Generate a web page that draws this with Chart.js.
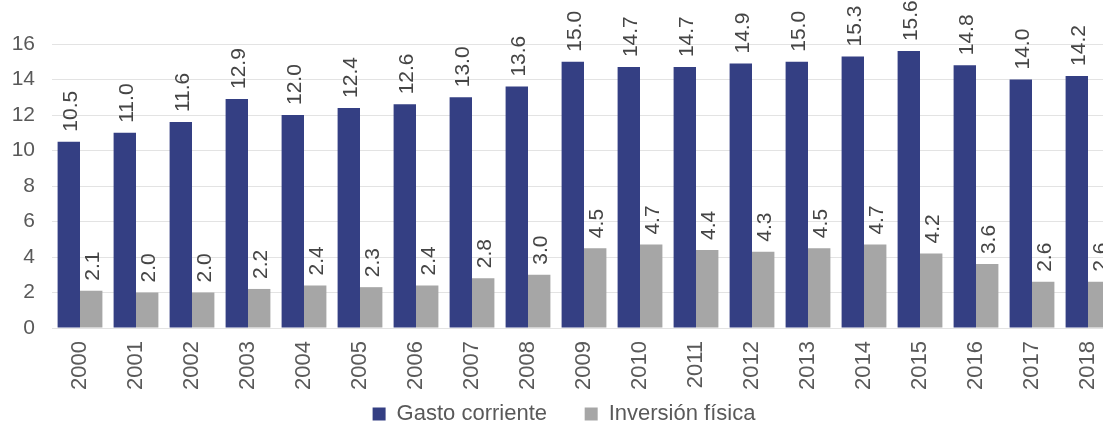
<!DOCTYPE html>
<html>
<head>
<meta charset="utf-8">
<script src="https://cdn.jsdelivr.net/npm/chart.js@4"></script>
<style>
  html, body { margin: 0; padding: 0; background: #fff; overflow: hidden; }
  #wrap { width: 1122px; height: 427px; }
</style>
</head>
<body>
<div id="wrap"><canvas id="grafico"></canvas></div>
<script>
// datos
const anios = ['2000', '2001', '2002', '2003', '2004', '2005', '2006', '2007', '2008', '2009',
               '2010', '2011', '2012', '2013', '2014', '2015', '2016', '2017', '2018'];
const gastoCorriente = [10.5, 11.0, 11.6, 12.9, 12.0, 12.4, 12.6, 13.0, 13.6, 15.0,
                        14.7, 14.7, 14.9, 15.0, 15.3, 15.6, 14.8, 14.0, 14.2];
const inversionFisica = [2.1, 2.0, 2.0, 2.2, 2.4, 2.3, 2.4, 2.8, 3.0, 4.5,
                         4.7, 4.4, 4.3, 4.5, 4.7, 4.2, 3.6, 2.6, 2.6];
const ticksY = [0, 2, 4, 6, 8, 10, 12, 14, 16];

const fuente = "'Liberation Sans', Arial, sans-serif";
const grisTexto = '#595959';

// etiquetas verticales encima de cada barra
const etiquetasBarras = {
    id: 'etiquetasBarras',
    afterDatasetsDraw(chart) {
        const ctx = chart.ctx;
        chart.data.datasets.forEach((ds, i) => {
            chart.getDatasetMeta(i).data.forEach((bar, j) => {
                ctx.save();
                ctx.translate(bar.x + 1, bar.y - 10);
                ctx.rotate(-Math.PI / 2);
                ctx.font = '21px ' + fuente;
                ctx.fillStyle = '#454545';
                ctx.textAlign = 'left';
                ctx.textBaseline = 'middle';
                ctx.fillText(ds.data[j].toFixed(1), 0, 1);
                ctx.restore();
            });
        });
    }
};

new Chart(document.getElementById('grafico'), {
    type: 'bar',
    data: {
        labels: anios,
        datasets: [
            { label: 'Gasto corriente', data: gastoCorriente, backgroundColor: '#343F83',
              categoryPercentage: 0.8, barPercentage: 1.0 },
            { label: 'Inversión física', data: inversionFisica, backgroundColor: '#A6A6A6',
              categoryPercentage: 0.8, barPercentage: 1.0 }
        ]
    },
    options: {
        responsive: true,
        maintainAspectRatio: false,
        animation: false,
        layout: { padding: { top: 44, left: 12, right: 6, bottom: -8 } },
        scales: {
            x: {
                grid: { display: false },
                border: { display: false },
                ticks: { color: grisTexto, font: { family: fuente, size: 22 },
                         minRotation: 90, maxRotation: 90, padding: 5 },
                afterFit: axis => { axis.height = 74; }
            },
            y: {
                min: 0, max: 16,
                afterBuildTicks: axis => { axis.ticks = ticksY.map(v => ({ value: v })); },
                grid: { color: '#e3e3e3', drawTicks: false },
                border: { display: false },
                ticks: { color: grisTexto, font: { family: fuente, size: 21 }, padding: 17 },
                afterFit: axis => { axis.width = 40; }
            }
        },
        plugins: {
            legend: {
                position: 'bottom',
                labels: {
                    color: grisTexto, font: { family: fuente, size: 22 },
                    boxWidth: 13, boxHeight: 13, padding: 1,
                    // espacio entre las dos entradas de la leyenda
                    generateLabels: chart => Chart.defaults.plugins.legend.labels.generateLabels(chart)
                        .map((item, i) => { if (i === 0) item.text += '\u00A0'.repeat(6); return item; })
                }
            },
            tooltip: { enabled: false }
        }
    },
    plugins: [etiquetasBarras]
});
</script>
</body>
</html>
